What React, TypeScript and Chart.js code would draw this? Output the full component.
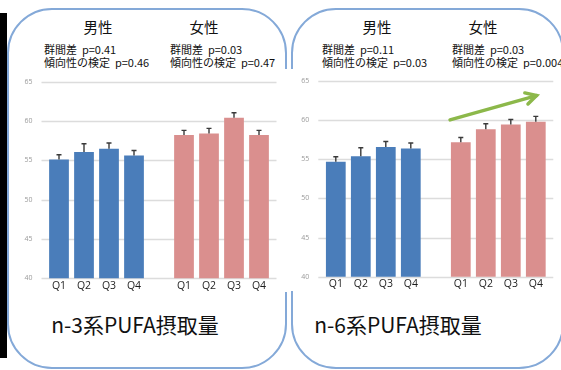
import React, { useEffect, useRef } from "react";
import { Chart, registerables } from "chart.js";

Chart.register(...registerables);

// Quartile categories and the value axis
const quartiles = ["Q1", "Q2", "Q3", "Q4"];
const yTicks = [40, 45, 50, 55, 60, 65];

// n-3 PUFA intake: means and upper error (SE) by quartile
const n3Male = [55.1, 56.05, 56.45, 55.6];
const n3MaleErr = [0.6, 1.05, 0.75, 0.65];
const n3Female = [58.2, 58.4, 60.4, 58.2];
const n3FemaleErr = [0.6, 0.65, 0.65, 0.6];
const n3PValues = ["0.41", "0.46", "0.03", "0.47"]; // male group, male trend, female group, female trend

// n-6 PUFA intake
const n6Male = [54.65, 55.35, 56.55, 56.35];
const n6MaleErr = [0.65, 1.1, 0.7, 0.7];
const n6Female = [57.15, 58.8, 59.4, 59.75];
const n6FemaleErr = [0.6, 0.7, 0.65, 0.7];
const n6PValues = ["0.11", "0.03", "0.03", "0.004"];

// Trend arrow over the n-6 female bars: [category index, value]
const n6TrendFrom = [4.57, 60.0];
const n6TrendTo = [8.03, 63.1];

const BLUE = "#4a7dba";
const PINK = "#da8f8e";
const FONT = '"Noto Sans CJK JP", "Noto Sans", sans-serif';

type Area = { left: number; right: number; top: number; bottom: number };

function BarPanel(props: {
  male: number[];
  maleErr: number[];
  female: number[];
  femaleErr: number[];
  width: number;
  height: number;
  area: Area;
  trend?: { from: number[]; to: number[] };
  style: React.CSSProperties;
}) {
  const ref = useRef<HTMLCanvasElement | null>(null);

  useEffect(() => {
    const { male, maleErr, female, femaleErr, width, height, area, trend } = props;
    const labels = [...quartiles, "", ...quartiles];
    const values = [...male, null, ...female];
    const errors = [...maleErr, null, ...femaleErr];
    const colors = [...male.map(() => BLUE), "rgba(0,0,0,0)", ...female.map(() => PINK)];

    const gridPlugin = {
      id: "hgrid",
      beforeDatasetsDraw(chart: any) {
        const { ctx, chartArea, scales } = chart;
        const y = scales.y;
        ctx.save();
        ctx.strokeStyle = "#dcdcdc";
        ctx.lineWidth = 1.3;
        y.ticks.forEach((t: any) => {
          const py = Math.round(y.getPixelForValue(t.value)) + 0.5;
          ctx.beginPath();
          ctx.moveTo(chartArea.left - 5, py);
          ctx.lineTo(chartArea.right + 5, py);
          ctx.stroke();
        });
        ctx.restore();
      },
    };

    const errorPlugin = {
      id: "errbars",
      afterDatasetsDraw(chart: any) {
        const { ctx, scales } = chart;
        const y = scales.y;
        const meta = chart.getDatasetMeta(0);
        ctx.save();
        ctx.strokeStyle = "#3a3a3a";
        ctx.lineWidth = 1.4;
        meta.data.forEach((bar: any, i: number) => {
          const v = values[i];
          const e = errors[i];
          if (v == null || e == null) return;
          const top = y.getPixelForValue(v + e);
          const base = y.getPixelForValue(v);
          ctx.beginPath();
          ctx.moveTo(bar.x, base);
          ctx.lineTo(bar.x, top);
          ctx.moveTo(bar.x - 2.5, top);
          ctx.lineTo(bar.x + 2.5, top);
          ctx.stroke();
        });
        ctx.restore();
      },
    };

    const arrowPlugin = {
      id: "trendArrow",
      afterDraw(chart: any) {
        if (!trend) return;
        const { ctx, scales } = chart;
        const x0 = scales.x.getPixelForValue(trend.from[0]);
        const y0 = scales.y.getPixelForValue(trend.from[1]);
        const x1 = scales.x.getPixelForValue(trend.to[0]);
        const y1 = scales.y.getPixelForValue(trend.to[1]);
        const ang = Math.atan2(y1 - y0, x1 - x0);
        const head = 12;
        ctx.save();
        ctx.strokeStyle = "#8cb84a";
        ctx.lineWidth = 3.5;
        ctx.lineCap = "round";
        ctx.lineJoin = "miter";
        ctx.beginPath();
        ctx.moveTo(x0, y0);
        ctx.lineTo(x1, y1);
        ctx.stroke();
        ctx.beginPath();
        ctx.moveTo(x1 - head * Math.cos(ang - 0.5), y1 - head * Math.sin(ang - 0.5));
        ctx.lineTo(x1, y1);
        ctx.lineTo(x1 - head * Math.cos(ang + 0.5), y1 - head * Math.sin(ang + 0.5));
        ctx.stroke();
        ctx.restore();
      },
    };

    const chart = new Chart(ref.current as HTMLCanvasElement, {
      type: "bar",
      data: {
        labels,
        datasets: [
          {
            data: values as any,
            backgroundColor: colors,
            borderWidth: 0,
            barPercentage: 0.79,
            categoryPercentage: 1,
          },
        ],
      },
      options: {
        animation: false,
        responsive: false,
        maintainAspectRatio: false,
        devicePixelRatio: 1,
        events: [],
        layout: {
          padding: { left: 0, top: area.top, right: width - area.right, bottom: 0 },
        },
        plugins: { legend: { display: false }, tooltip: { enabled: false } },
        scales: {
          x: {
            grid: { display: false, drawTicks: false },
            border: { display: false },
            ticks: {
              autoSkip: false,
              maxRotation: 0,
              padding: 1,
              color: "#1e1e1e",
              font: { family: '"Open Sans", "Noto Sans", sans-serif', size: 10.5 },
            },
            afterFit: (s: any) => {
              s.height = height - area.bottom;
              s.paddingLeft = 0;
              s.paddingRight = 0;
            },
          },
          y: {
            min: yTicks[0],
            max: yTicks[yTicks.length - 1],
            grid: { display: false, drawTicks: false },
            border: { display: false },
            ticks: {
              padding: 14,
              color: "#9a9a9a",
              font: { family: '"Open Sans", "Noto Sans", sans-serif', size: 7 },
            },
            afterBuildTicks: (s: any) => {
              s.ticks = yTicks.map((v) => ({ value: v }));
            },
            afterFit: (s: any) => {
              s.width = area.left;
              s.paddingTop = 0;
              s.paddingBottom = 0;
            },
          },
        },
      },
      plugins: [gridPlugin, errorPlugin, arrowPlugin],
    });
    return () => chart.destroy();
  }, []);

  return (
    <canvas
      ref={ref}
      width={props.width}
      height={props.height}
      style={{ position: "absolute", background: "#fff", display: "block", ...props.style }}
    />
  );
}

function Txt(props: {
  x: number;
  y: number;
  size: number;
  align?: "left" | "center";
  children: React.ReactNode;
}) {
  const { x, y, size, align = "left" } = props;
  const style: React.CSSProperties = {
    position: "absolute",
    top: y - size * 0.6,
    fontSize: size,
    lineHeight: `${size * 1.2}px`,
    whiteSpace: "pre",
    color: "#111",
    fontFamily: FONT,
  };
  if (align === "center") {
    style.left = x - 150;
    style.width = 300;
    style.textAlign = "center";
  } else {
    style.left = x;
  }
  return <div style={style}>{props.children}</div>;
}

export default function App() {
  const frame: React.CSSProperties = {
    position: "absolute",
    top: 8,
    height: 361,
    border: "2px solid #84a9d8",
    borderRadius: 45,
    boxSizing: "border-box",
  };
  return (
    <div
      style={{
        position: "absolute",
        left: 0,
        top: 0,
        width: 561,
        height: 370,
        overflow: "hidden",
        background: "#fff",
        fontFamily: FONT,
      }}
    >
      <div style={{ position: "absolute", left: 0, top: 13, width: 7, height: 345, background: "#000" }} />
      <div style={{ ...frame, left: 7, width: 280 }} />
      <div style={{ ...frame, left: 291, width: 273 }} />

      <Txt x={98} y={27} size={14.5} align="center">男性</Txt>
      <Txt x={204} y={27} size={14.5} align="center">女性</Txt>
      <Txt x={44} y={50} size={11}>{`群間差  p=${n3PValues[0]}`}</Txt>
      <Txt x={44} y={62.5} size={11}>{`傾向性の検定  p=${n3PValues[1]}`}</Txt>
      <Txt x={170} y={50} size={11}>{`群間差  p=${n3PValues[2]}`}</Txt>
      <Txt x={170} y={62.5} size={11}>{`傾向性の検定  p=${n3PValues[3]}`}</Txt>

      <Txt x={377} y={27} size={14.5} align="center">男性</Txt>
      <Txt x={483} y={27} size={14.5} align="center">女性</Txt>
      <Txt x={322} y={50} size={11}>{`群間差  p=${n6PValues[0]}`}</Txt>
      <Txt x={322} y={62.5} size={11}>{`傾向性の検定  p=${n6PValues[1]}`}</Txt>
      <Txt x={452} y={50} size={11}>{`群間差  p=${n6PValues[2]}`}</Txt>
      <Txt x={452} y={62.5} size={11}>{`傾向性の検定  p=${n6PValues[3]}`}</Txt>

      <BarPanel
        male={n3Male}
        maleErr={n3MaleErr}
        female={n3Female}
        femaleErr={n3FemaleErr}
        width={280}
        height={223}
        area={{ left: 36.5, right: 261.5, top: 12.6, bottom: 209.3 }}
        style={{ left: 10, top: 69 }}
      />
      <BarPanel
        male={n6Male}
        maleErr={n6MaleErr}
        female={n6Female}
        femaleErr={n6FemaleErr}
        width={271}
        height={222}
        area={{ left: 33.3, right: 258.3, top: 11.7, bottom: 207.7 }}
        trend={{ from: n6TrendFrom, to: n6TrendTo }}
        style={{ left: 290, top: 69 }}
      />

      <Txt x={135} y={325} size={21} align="center">n-3系PUFA摂取量</Txt>
      <Txt x={398} y={325} size={21} align="center">n-6系PUFA摂取量</Txt>
    </div>
  );
}
